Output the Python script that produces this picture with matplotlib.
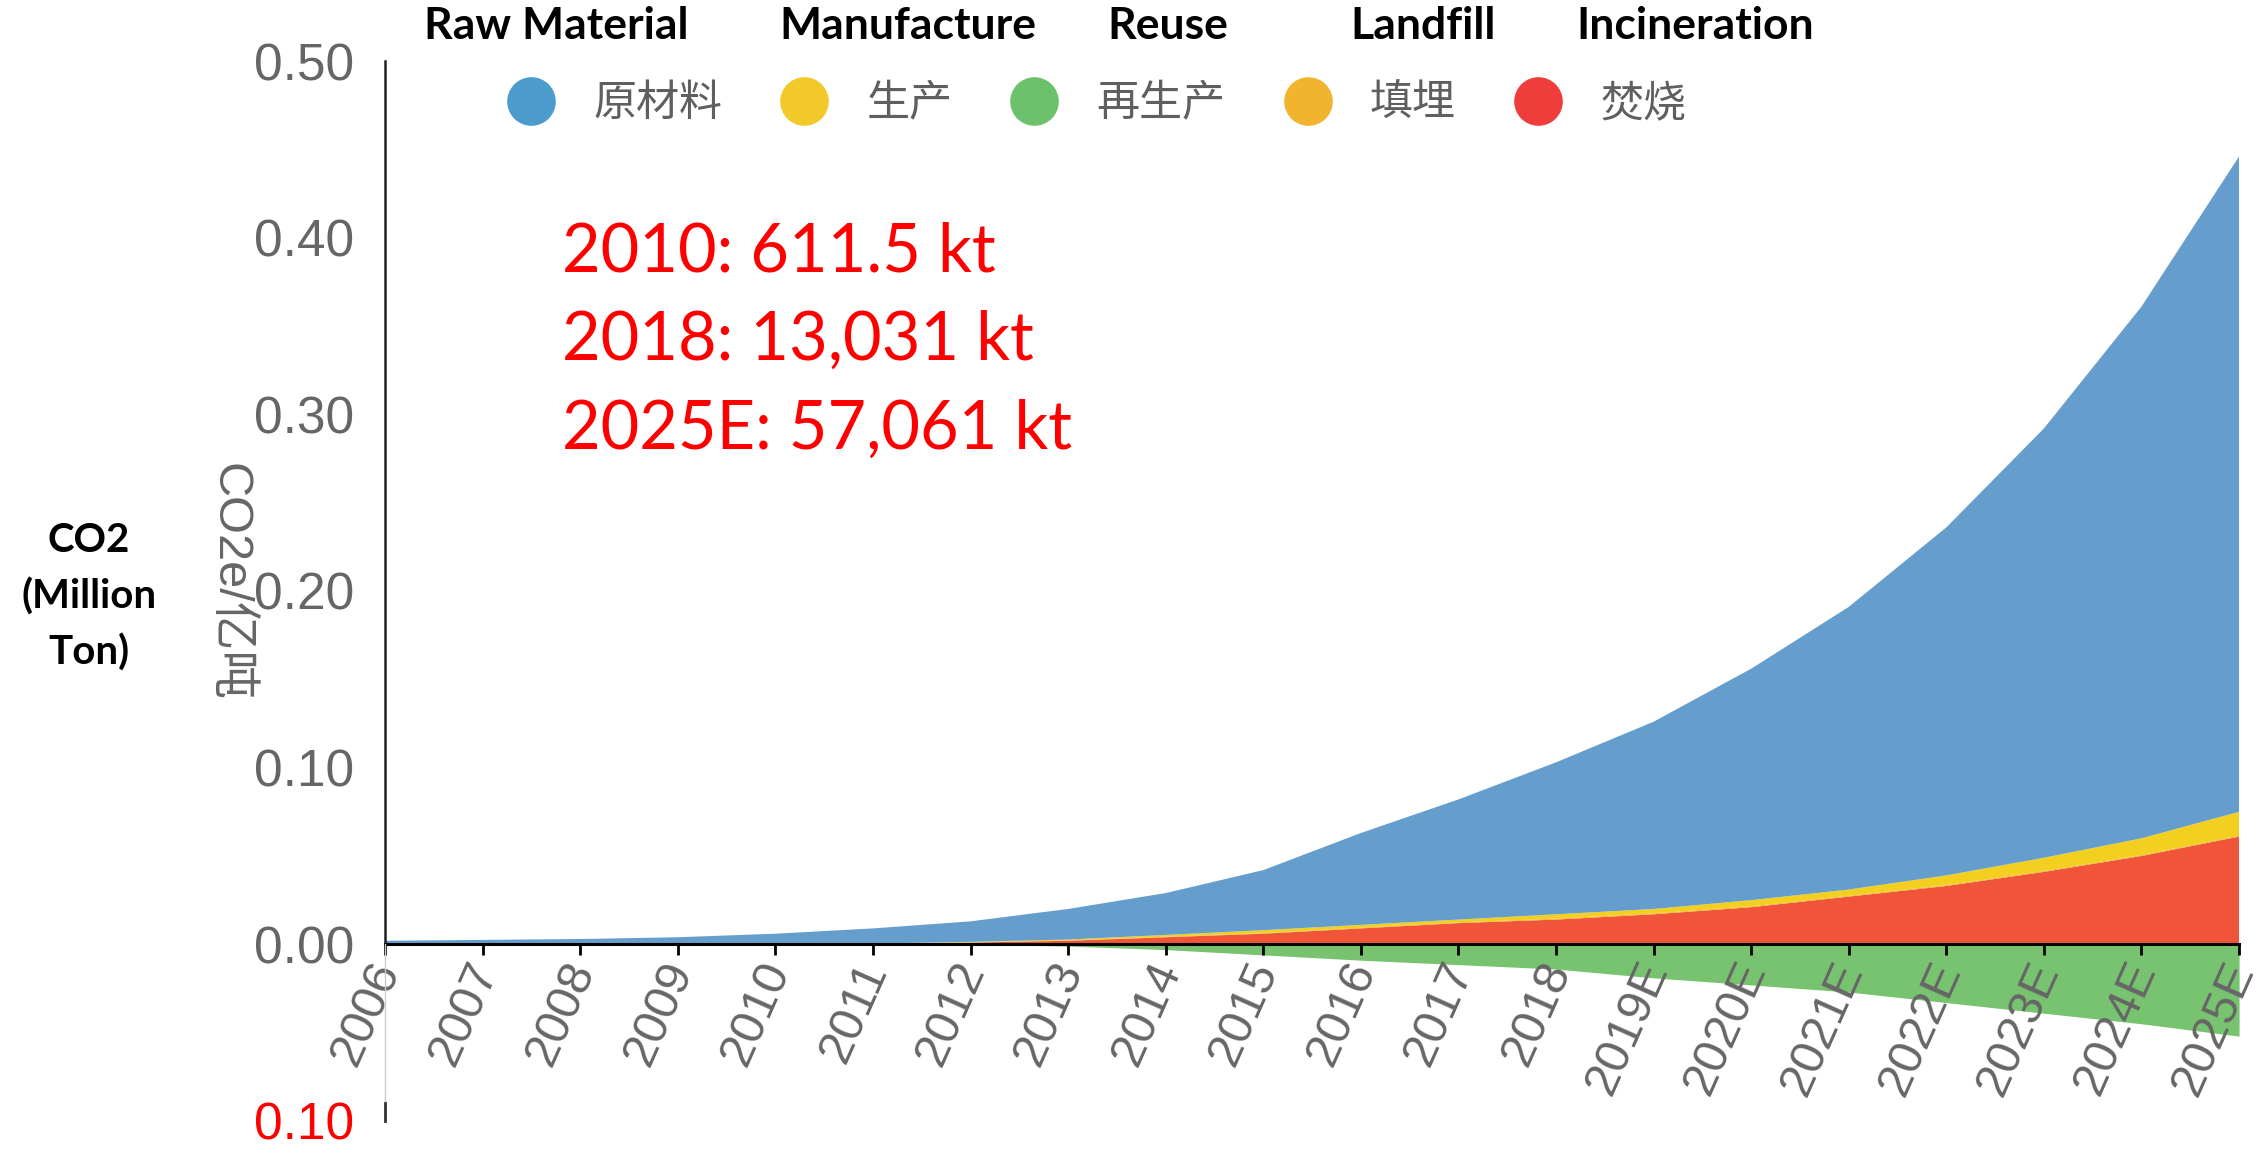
import numpy as np
import matplotlib.pyplot as plt
from matplotlib.lines import Line2D
from matplotlib.transforms import ScaledTranslation

years = ['2006', '2007', '2008', '2009', '2010', '2011', '2012', '2013', '2014', '2015',
         '2016', '2017', '2018', '2019E', '2020E', '2021E', '2022E', '2023E', '2024E', '2025E']

# 亿吨 CO2e, per layer (stacked from the bottom: 焚烧, 填埋, 生产, 原材料)
incineration = [0, 0, 0, 0, 0, 0.0003, 0.001, 0.002, 0.004, 0.006,
                0.009, 0.012, 0.014, 0.017, 0.021, 0.027, 0.033, 0.041, 0.050, 0.061]
landfill = [0, 0, 0, 0, 0, 0, 0.0001, 0.0002, 0.0003, 0.0003,
            0.0004, 0.0004, 0.0005, 0.0005, 0.0005, 0.0005, 0.0005, 0.0005, 0.0005, 0.0005]
manufacture = [0, 0, 0, 0, 0, 0.0001, 0.0003, 0.0005, 0.001, 0.0017,
               0.0016, 0.0016, 0.0025, 0.0025, 0.0035, 0.0035, 0.0055, 0.0075, 0.0095, 0.0135]
raw_material = [0.002, 0.0025, 0.003, 0.004, 0.006, 0.0086, 0.0116, 0.0173, 0.0237, 0.034,
                0.052, 0.068, 0.086, 0.106, 0.131, 0.160, 0.197, 0.243, 0.301, 0.371]
reuse = [0, 0, 0, 0, 0, 0, 0, -0.001, -0.003, -0.006,
         -0.009, -0.0115, -0.014, -0.019, -0.023, -0.027, -0.033, -0.039, -0.045, -0.052]

cn_labels = ['原材料', '生产', '再生产', '填埋', '焚烧']
en_labels = ['Raw Material', 'Manufacture', 'Reuse', 'Landfill', 'Incineration']
yticks = [-0.1, 0.0, 0.1, 0.2, 0.3, 0.4, 0.5]
ytick_labels = ['0.10', '0.00', '0.10', '0.20', '0.30', '0.40', '0.50']
notes = ['2010: 611.5 kt', '2018: 13,031 kt', '2025E: 57,061 kt']

c_blue, c_yellow, c_green, c_orange, c_red = '#659ecd', '#f3cf1f', '#78c36f', '#f0b22e', '#f05539'
dot_colors = ['#4b9bcc', '#f2c92a', '#6cc26a', '#f2b32e', '#ee3d3b']
gray = '#666666'

fig = plt.figure(figsize=(22.61, 11.49), dpi=100)
ax = fig.add_axes([0.1703, 0.0244, 0.82, 0.9225])

x = np.arange(len(years))
ax.stackplot(x, incineration, landfill, manufacture, raw_material,
             colors=[c_red, c_orange, c_yellow, c_blue], linewidth=0)
ax.fill_between(x, reuse, 0, color=c_green, linewidth=0)

ax.set_xlim(0, len(years) - 1)
ax.set_ylim(-0.1, 0.5)

for s in ['top', 'right']:
    ax.spines[s].set_visible(False)
ax.spines['bottom'].set_position(('data', 0))
ax.spines['bottom'].set_linewidth(2.2)
ax.spines['bottom'].set_color('black')
ax.spines['left'].set_bounds(0, 0.5)
ax.spines['left'].set_linewidth(1.8)
ax.spines['left'].set_color('#222222')
# thin grey axis line below zero
ax.plot([0, 0], [-0.1, 0], color='#cccccc', lw=1, clip_on=False, zorder=5)
ax.plot([0, 0], [-0.1, -0.09], color='#333333', lw=2, clip_on=False, zorder=5)

ax.set_yticks(yticks)
ax.set_yticklabels(ytick_labels, fontsize=37, color=gray, family='Liberation Sans')
ax.get_yticklabels()[0].set_color('red')
ax.tick_params(axis='y', length=0, pad=22)

ax.set_xticks(x)
ax.set_xticklabels(years, fontsize=35, color=gray, family='Liberation Sans',
                   rotation=66, ha='right', va='center', rotation_mode='anchor')
ax.tick_params(axis='x', length=8, width=2, direction='out', pad=6)
shift = ScaledTranslation(3 / 100, 0, fig.dpi_scale_trans)
for lbl in ax.get_xticklabels():
    lbl.set_transform(lbl.get_transform() + shift)

fig.text(229 / 2261, 1 - 582 / 1149, 'CO2e/亿吨', rotation=270,
         ha='center', va='center', fontsize=35, color=gray,
         family=['Liberation Sans', 'Noto Sans CJK SC'])

# legend with circles
handles = [Line2D([], [], marker='o', ls='', markersize=35, color=c, markeredgewidth=0)
           for c in dot_colors]
fig.legend(handles, cn_labels, loc='center left', bbox_to_anchor=(505 / 2261, 1 - 104 / 1149),
           ncol=5, frameon=False, borderpad=0, borderaxespad=0, handlelength=1.2,
           handletextpad=0.85, columnspacing=1.3, labelcolor='#5f5f5f',
           prop={'family': 'Noto Sans CJK SC', 'size': 31, 'weight': 'medium'})

# English labels above legend
en_x = [556, 908, 1168, 1423, 1695]
for lab, px in zip(en_labels, en_x):
    fig.text(px / 2261, 1 - 26 / 1149, lab, ha='center', va='center',
             fontsize=32, fontweight='bold', family='Lato', color='black')

# left label
for i, line in enumerate(['CO2', '(Million', 'Ton)']):
    fig.text(89 / 2261, 1 - (541 + 56 * i) / 1149, line, ha='center', va='center',
             fontsize=29, fontweight='bold', family='Lato', color='black')

# red notes
for i, line in enumerate(notes):
    fig.text(562 / 2261, 1 - (271 + 89 * i) / 1149, line, ha='left', va='baseline',
             fontsize=48, family='Lato', color='red')

fig.savefig('out.png', dpi=100, facecolor='white')
